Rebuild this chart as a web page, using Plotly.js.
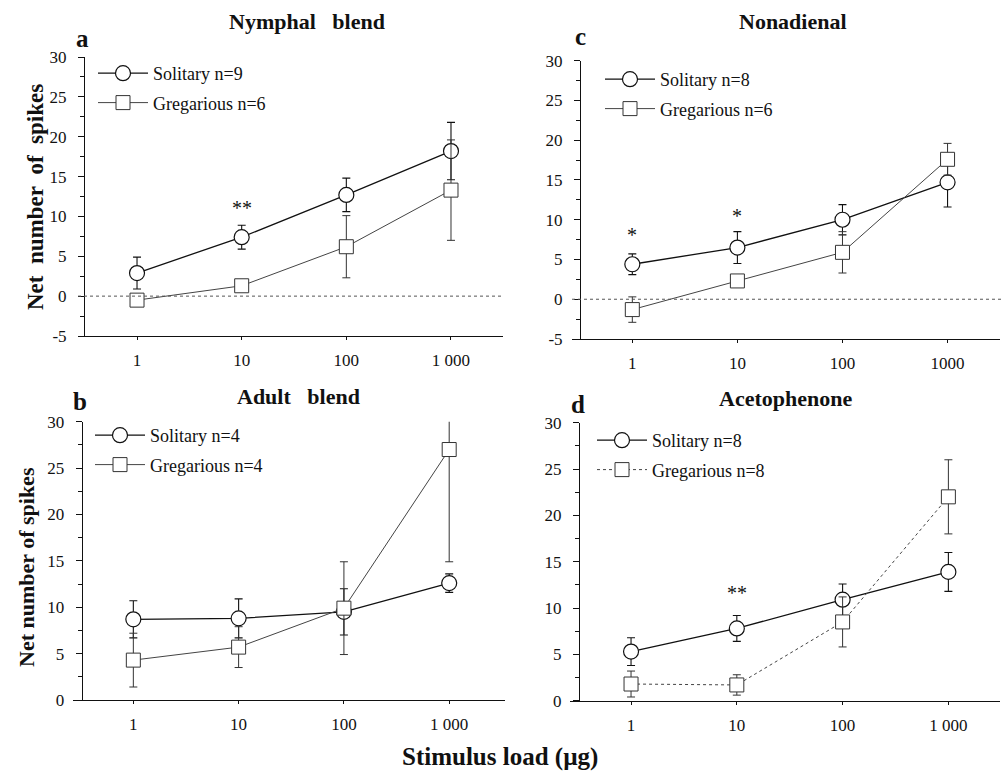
<!DOCTYPE html>
<html>
<head>
<meta charset="utf-8">
<script src="https://cdn.plot.ly/plotly-3.0.1.min.js"></script>
<style>html,body{margin:0;padding:0;background:#fff;}#chart{width:1004px;height:780px;}</style>
</head>
<body>
<div id="chart"></div>
<script>
// ---- data ----
const doses = [1, 10, 100, 1000];
const tickLabelsSpaced = ["1", "10", "100", "1 000"];
const tickLabelsPlain = ["1", "10", "100", "1000"];
const yTicksTop = [-5, 0, 5, 10, 15, 20, 25, 30];
const yTicksTopText = ["-5", "0", "5", "10", "15", "20", "25", "30"];
const yTicksBottom = [0, 5, 10, 15, 20, 25, 30];
const yTicksBottomText = ["0", "5", "10", "15", "20", "25", "30"];

const nymphSol = [2.9, 7.4, 12.7, 18.2];
const nymphSolErr = [2.0, 1.5, 2.1, 3.6];
const nymphGreg = [-0.5, 1.3, 6.2, 13.3];
const nymphGregErr = [0.5, 0.5, 3.9, 6.3];

const adultSol = [8.7, 8.8, 9.5, 12.6];
const adultSolErr = [2.0, 2.1, 2.5, 1.0];
const adultGreg = [4.3, 5.7, 9.9, 27.0];
const adultGregErr = [2.9, 2.2, 5.0, 12.1];

const nonaSol = [4.4, 6.5, 10.0, 14.7];
const nonaSolErr = [1.3, 2.0, 1.9, 3.1];
const nonaGreg = [-1.3, 2.3, 5.9, 17.6];
const nonaGregErr = [1.6, 0.5, 2.6, 2.0];

const acetoSol = [5.3, 7.8, 10.9, 13.9];
const acetoSolErr = [1.5, 1.4, 1.7, 2.1];
const acetoGreg = [1.8, 1.7, 8.5, 22.0];
const acetoGregErr = [1.4, 1.1, 2.7, 4.0];

const legendNames = {
  a: ["Solitary n=9", "Gregarious n=6"],
  c: ["Solitary n=8", "Gregarious n=6"],
  b: ["Solitary n=4", "Gregarious n=4"],
  d: ["Solitary n=8", "Gregarious n=8"]
};

// ---- helpers ----
const W = 1004, H = 780;
const px = v => v / W;
const py = v => 1 - v / H;
const SERIF = "Liberation Serif";

function solTrace(y, err, name, xa, ya, leg, grp) {
  return {
    x: doses, y: y, name: name, type: "scatter", mode: "lines+markers",
    xaxis: xa, yaxis: ya, legend: leg, legendgroup: grp,
    line: {color: "#111", width: 1.3},
    marker: {symbol: "circle", size: 15, color: "#fff", line: {color: "#111", width: 1.2}},
    error_y: {type: "data", array: err, visible: true, color: "#111", thickness: 1.1, width: 4}
  };
}
function gregTrace(y, err, name, xa, ya, leg, grp, dash) {
  return {
    x: doses, y: y, name: name, type: "scatter", mode: "lines+markers",
    xaxis: xa, yaxis: ya, legend: leg, legendgroup: grp,
    line: {color: "#444", width: 1, dash: dash || "solid"},
    marker: {symbol: "square", size: 14, color: "#fff", line: {color: "#333", width: 1}},
    error_y: {type: "data", array: err, visible: true, color: "#333", thickness: 1, width: 4}
  };
}

const data = [
  solTrace(nymphSol, nymphSolErr, legendNames.a[0], "x", "y", "legend", "a1"),
  gregTrace(nymphGreg, nymphGregErr, legendNames.a[1], "x", "y", "legend", "a2"),
  solTrace(nonaSol, nonaSolErr, legendNames.c[0], "x2", "y2", "legend2", "c1"),
  gregTrace(nonaGreg, nonaGregErr, legendNames.c[1], "x2", "y2", "legend2", "c2"),
  solTrace(adultSol, adultSolErr, legendNames.b[0], "x3", "y3", "legend3", "b1"),
  gregTrace(adultGreg, adultGregErr, legendNames.b[1], "x3", "y3", "legend3", "b2"),
  solTrace(acetoSol, acetoSolErr, legendNames.d[0], "x4", "y4", "legend4", "d1"),
  gregTrace(acetoGreg, acetoGregErr, legendNames.d[1], "x4", "y4", "legend4", "d2", "dot")
];

function xAxis(domain, range, ticktext, anchor) {
  return {
    type: "log", domain: domain, range: range, anchor: anchor,
    tickvals: doses, ticktext: ticktext,
    showline: true, linecolor: "#111", linewidth: 1,
    ticks: "outside", ticklen: 3, tickcolor: "#111", ticklabelstandoff: 6,
    showgrid: false, zeroline: false,
    tickfont: {family: SERIF, size: 17, color: "#111"}
  };
}
function yAxis(domain, range, pos, vals, texts) {
  return {
    domain: domain, range: range, anchor: "free", position: pos,
    tickvals: vals, ticktext: texts,
    showline: true, linecolor: "#111", linewidth: 1,
    ticks: "outside", ticklen: 6, tickcolor: "#111", ticklabelstandoff: 8,
    minor: {dtick: 2.5, tick0: 0, ticks: "outside", ticklen: 4, tickcolor: "#111", showgrid: false},
    showgrid: false, zeroline: false,
    tickfont: {family: SERIF, size: 17, color: "#111"}
  };
}
function legendAt(x, y) {
  return {
    x: px(x), y: py(y), xanchor: "left", yanchor: "top",
    bgcolor: "rgba(0,0,0,0)", borderwidth: 0,
    font: {family: SERIF, size: 18, color: "#111"},
    tracegroupgap: 3, itemwidth: 50
  };
}

const ann = [];
function txt(t, x, y, size, opts) {
  ann.push(Object.assign({
    text: t, x: px(x), y: py(y), xref: "paper", yref: "paper",
    showarrow: false, xanchor: "center", yanchor: "middle",
    font: {family: SERIF, size: size, color: "#111", weight: "bold"}
  }, opts || {}));
}
txt("Nymphal\u00a0\u00a0\u00a0blend", 307, 21, 22);
txt("Nonadienal", 793, 21, 22);
txt("Adult\u00a0\u00a0\u00a0blend", 298, 396, 22);
txt("Acetophenone", 785, 398, 22);
txt("a", 82, 38, 25);
txt("c", 580, 36, 25);
txt("b", 80, 402, 25);
txt("d", 578, 404, 25);
txt("Net\u00a0\u00a0number\u00a0\u00a0of\u00a0\u00a0spikes", 35, 197, 23, {textangle: -90});
txt("Net number of spikes", 26, 567, 22, {textangle: -90});
txt("Stimulus load (\u00b5g)", 500, 757, 25);

function star(t, xa, ya, xv, yv) {
  ann.push({text: t, x: Math.log10(xv), y: yv, xref: xa, yref: ya, showarrow: false,
    xanchor: "center", yanchor: "middle", font: {family: SERIF, size: 20, color: "#111"}});
}
star("**", "x", "y", 10, 11.0);
star("*", "x2", "y2", 1, 8.1);
star("*", "x2", "y2", 10, 10.5);
star("**", "x4", "y4", 10, 11.6);

const layout = {
  width: W, height: H,
  margin: {l: 0, r: 0, t: 0, b: 0},
  paper_bgcolor: "#fff", plot_bgcolor: "rgba(0,0,0,0)",
  showlegend: true,
  xaxis: xAxis([px(78), px(503)], [-0.564, 3.497], tickLabelsSpaced, "y"),
  yaxis: yAxis([py(336), py(57)], [-5, 30], px(84), yTicksTop, yTicksTopText),
  xaxis2: xAxis([px(572), px(1000)], [-0.574, 3.499], tickLabelsPlain, "y2"),
  yaxis2: yAxis([py(339), py(60.7)], [-5, 30], px(580), yTicksTop, yTicksTopText),
  xaxis3: xAxis([px(73), px(505)], [-0.573, 3.53], tickLabelsSpaced, "y3"),
  yaxis3: yAxis([py(700), py(421.7)], [0, 30], px(81.7), yTicksBottom, yTicksBottomText),
  xaxis4: xAxis([px(570), px(1000)], [-0.577, 3.488], tickLabelsSpaced, "y4"),
  yaxis4: yAxis([py(700.7), py(422.7)], [0, 30], px(579), yTicksBottom, yTicksBottomText),
  legend: legendAt(93, 55),
  legend2: legendAt(600, 61),
  legend3: legendAt(90, 417),
  legend4: legendAt(592, 422),
  shapes: [
    {type: "line", xref: "paper", yref: "y", x0: px(78), x1: px(503), y0: 0, y1: 0,
     line: {color: "#555", width: 1, dash: "dot"}},
    {type: "line", xref: "paper", yref: "y2", x0: px(572), x1: px(1002), y0: 0, y1: 0,
     line: {color: "#555", width: 1, dash: "dot"}}
  ],
  annotations: ann
};

Plotly.newPlot("chart", data, layout, {staticPlot: true, displayModeBar: false});
</script>
</body>
</html>
